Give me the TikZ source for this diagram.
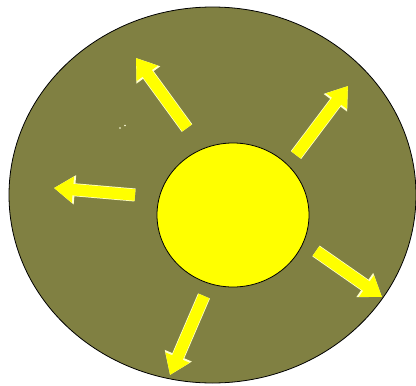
\documentclass[tikz,border=0pt]{standalone}
\usepackage{tikz}
\usetikzlibrary{calc,positioning,arrows.meta}
\definecolor{olivebg}{RGB}{128,128,66}
\definecolor{sunyellow}{RGB}{255,255,0}
\definecolor{paleyellow}{RGB}{255,255,200}
\tikzset{
	ray/.style={draw=sunyellow,line width=11.5pt,-{Triangle[length=19pt,width=25pt]},
		preaction={draw=paleyellow,line width=13pt,-{Triangle[length=21pt,width=28pt]}}}
}

\begin{document}
\begin{tikzpicture}[x=1pt,y=-1pt]
				%\draw[color=gray,step=10pt, help lines,opacity=0.3] (0,0) grid (416,386); %help grids
				\useasboundingbox (0,0) rectangle (416,386);
				\draw[fill=olivebg,line width=0.8pt] (212.5,195) ellipse [x radius=203.5,y radius=188];
				\draw[fill=sunyellow,line width=0.8pt] (233,215) ellipse [x radius=76,y radius=72];
				\coordinate (sun) at (233,215);
				% two stray specks
				\fill[paleyellow!60!white] (120,128) circle (0.9pt) (125,125.5) circle (0.9pt);
				% rays
				\coordinate (tailA) at (187,128); \coordinate (tipA) at (136,58);
				\coordinate (tailB) at (296,155); \coordinate (tipB) at (348,86);
				\coordinate (tailC) at (135,195); \coordinate (tipC) at (54,188);
				\coordinate (tailD) at (316,251); \coordinate (tipD) at (382,297);
				\coordinate (tailE) at (204,296); \coordinate (tipE) at (170,375);
				\draw[ray] (tailA) -- (tipA);
				\draw[ray] (tailB) -- (tipB);
				\draw[ray] (tailC) -- (tipC);
				\draw[ray] (tailD) -- (tipD);
				\draw[ray] (tailE) -- (tipE);
\end{tikzpicture}
\end{document}
